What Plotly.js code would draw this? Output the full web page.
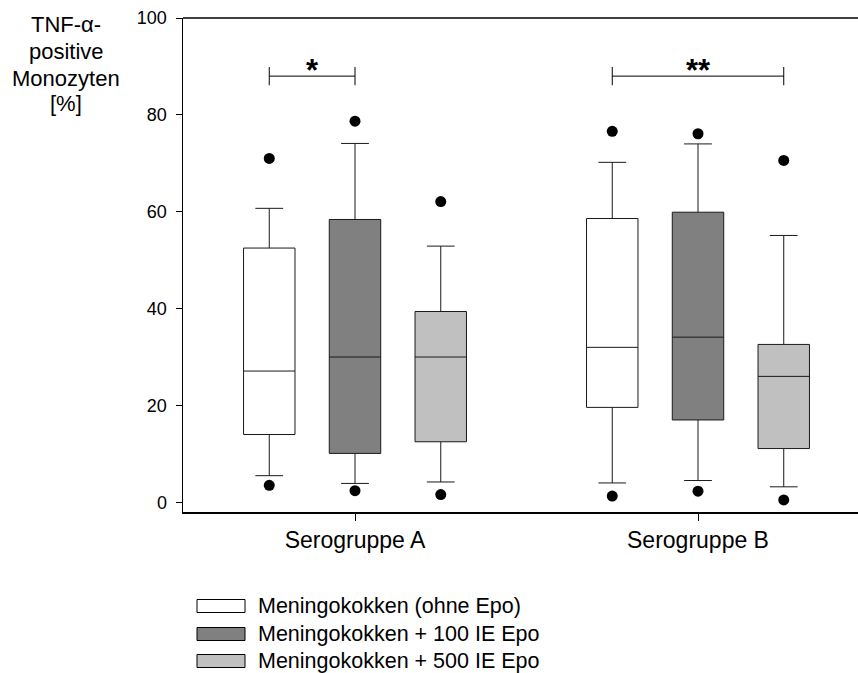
<!DOCTYPE html>
<html>
<head>
<meta charset="utf-8">
<script src="https://cdn.plot.ly/plotly-3.0.1.min.js"></script>
<style>html,body{margin:0;padding:0;background:#fff;}#chart{width:858px;height:673px;}</style>
</head>
<body>
<div id="chart"></div>
<script>
// ---- data ----
const categories = ['Serogruppe A', 'Serogruppe B'];
const seriesNames = ['Meningokokken (ohne Epo)', 'Meningokokken + 100 IE Epo', 'Meningokokken + 500 IE Epo'];
const seriesColors = ['#ffffff', '#808080', '#c0c0c0'];

const ohneUpperOut   = [71.0, 76.6];
const ohneUpperWhisk = [60.7, 70.2];
const ohneQ3         = [52.5, 58.6];
const ohneMedian     = [27.1, 32.0];
const ohneQ1         = [14.0, 19.6];
const ohneLowerWhisk = [5.5, 4.0];
const ohneLowerOut   = [3.5, 1.3];

const e100UpperOut   = [78.7, 76.1];
const e100UpperWhisk = [74.1, 74.0];
const e100Q3         = [58.4, 59.9];
const e100Median     = [30.0, 34.1];
const e100Q1         = [10.1, 17.0];
const e100LowerWhisk = [3.9, 4.5];
const e100LowerOut   = [2.4, 2.3];

const e500UpperOut   = [62.1, 70.6];
const e500UpperWhisk = [52.9, 55.1];
const e500Q3         = [39.4, 32.6];
const e500Median     = [30.0, 26.0];
const e500Q1         = [12.5, 11.1];
const e500LowerWhisk = [4.2, 3.2];
const e500LowerOut   = [1.6, 0.5];

const yTickVals = [0, 20, 40, 60, 80, 100];
const yTitleLines = ['TNF-\u03b1-', 'positive', 'Monozyten', '[%]'];

// significance: [group, seriesFrom, seriesTo, level, label]
const sigGroup  = [0, 1];
const sigFrom   = [0, 0];
const sigTo     = [1, 2];
const sigLevel  = [88, 88];
const sigLabel  = ['*', '**'];

// ---- layout constants ----
const W = 858, H = 673;
const M = {l: 183, r: 0, t: 18, b: 161};
const plotW = W - M.l - M.r, plotH = H - M.t - M.b;
const px2x = px => (px - M.l) / plotW;
const py2y = py => (H - M.b - py) / plotH;
const offsets = [-0.25, 0, 0.25];
const FONT = 'Arial, "Liberation Sans", Helvetica, sans-serif';

const series = [
  {up: ohneUpperOut, uw: ohneUpperWhisk, q3: ohneQ3, med: ohneMedian, q1: ohneQ1, lw: ohneLowerWhisk, lo: ohneLowerOut},
  {up: e100UpperOut, uw: e100UpperWhisk, q3: e100Q3, med: e100Median, q1: e100Q1, lw: e100LowerWhisk, lo: e100LowerOut},
  {up: e500UpperOut, uw: e500UpperWhisk, q3: e500Q3, med: e500Median, q1: e500Q1, lw: e500LowerWhisk, lo: e500LowerOut}
];

const traces = [];
series.forEach((s, i) => {
  const pos = categories.map((c, g) => g + offsets[i]);
  traces.push({
    type: 'box', name: seriesNames[i], x: pos,
    q1: s.q1, median: s.med, q3: s.q3, lowerfence: s.lw, upperfence: s.uw,
    width: 0.15, whiskerwidth: 0.54,
    fillcolor: seriesColors[i], line: {color: '#1a1a1a', width: 1},
    boxpoints: false, showlegend: false, hoverinfo: 'skip'
  });
  traces.push({
    type: 'scatter', mode: 'markers', x: pos.concat(pos), y: s.up.concat(s.lo),
    marker: {color: '#000', size: 11}, showlegend: false, hoverinfo: 'skip'
  });
});

const annotations = [];
sigGroup.forEach((g, k) => {
  const xa = g + offsets[sigFrom[k]], xb = g + offsets[sigTo[k]];
  traces.push({
    type: 'scatter', mode: 'lines+markers', x: [xa, xb], y: [sigLevel[k], sigLevel[k]],
    line: {color: '#000', width: 1},
    marker: {symbol: 'line-ns-open', size: 13, color: '#000', line: {color: '#000', width: 1}},
    showlegend: false, hoverinfo: 'skip'
  });
  annotations.push({
    x: (xa + xb) / 2, y: sigLevel[k], xref: 'x', yref: 'y', text: '<b>' + sigLabel[k] + '</b>',
    showarrow: false, xanchor: 'center', yanchor: 'bottom', yshift: -14,
    font: {family: FONT, size: 31, color: '#000'}
  });
});

// y title lines
const titleY = [24, 51, 78, 104];
yTitleLines.forEach((t, i) => {
  annotations.push({
    x: px2x(66), y: py2y(titleY[i]), xref: 'paper', yref: 'paper', text: t,
    showarrow: false, xanchor: 'center', yanchor: 'middle',
    font: {family: FONT, size: 22, color: '#000'}
  });
});

// legend (manual)
const legendRowY = [606, 634, 661];
const shapes = [
  {type: 'line', xref: 'paper', yref: 'paper', x0: 0, x1: 1, y0: 1, y1: 1, line: {color: '#000', width: 1.5}}
];
seriesNames.forEach((n, i) => {
  shapes.push({
    type: 'rect', xref: 'paper', yref: 'paper',
    x0: px2x(197), x1: px2x(245), y0: py2y(legendRowY[i] - 6.5), y1: py2y(legendRowY[i] + 6.5),
    fillcolor: seriesColors[i], line: {color: '#000', width: 1}
  });
  annotations.push({
    x: px2x(256), y: py2y(legendRowY[i]), xref: 'paper', yref: 'paper', text: n,
    showarrow: false, xanchor: 'left', yanchor: 'middle',
    font: {family: FONT, size: 21.5, color: '#000'}
  });
});

const layout = {
  width: W, height: H, margin: M,
  paper_bgcolor: '#fff', plot_bgcolor: '#fff',
  showlegend: false, boxmode: 'overlay',
  font: {family: FONT, color: '#000'},
  xaxis: {
    range: [-0.5015, 1.4665], tickvals: [0, 1], ticktext: categories,
    showline: true, linecolor: '#000', linewidth: 1.5, ticks: 'outside', ticklen: 7, tickcolor: '#000',
    showgrid: false, zeroline: false, tickfont: {family: FONT, size: 23, color: '#000'}
  },
  yaxis: {
    range: [-2, 100], tickvals: yTickVals,
    showline: true, linecolor: '#000', linewidth: 1.5, ticks: 'outside', ticklen: 6, tickcolor: '#000',
    showgrid: false, zeroline: false, tickfont: {family: FONT, size: 18, color: '#000'},
    ticklabelstandoff: 5
  },
  shapes: shapes,
  annotations: annotations
};

Plotly.newPlot('chart', traces, layout, {staticPlot: true, displayModeBar: false});
</script>
</body>
</html>
